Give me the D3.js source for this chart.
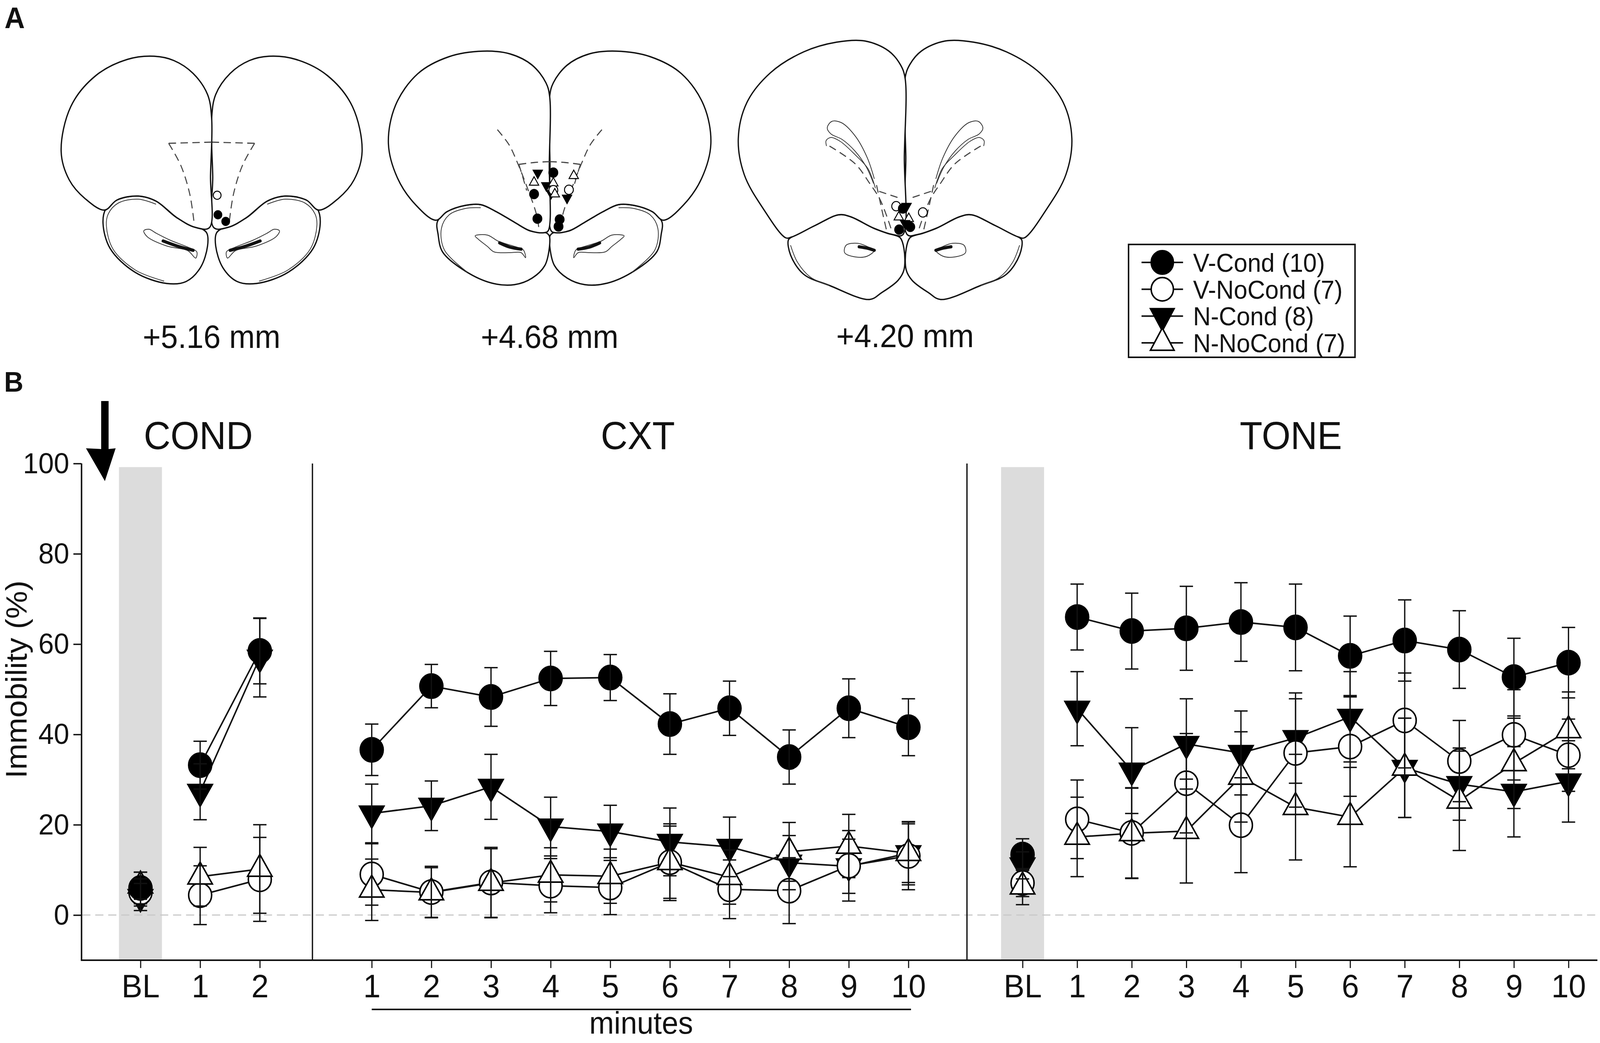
<!DOCTYPE html>
<html>
<meta charset="utf-8">
<head>
<title>immobility</title>
<script src="https://cdn.jsdelivr.net/npm/d3@7/dist/d3.min.js" charset="utf-8"></script>
<style>
  html, body { margin: 0; padding: 0; width: 100%; height: 100%; overflow: hidden; background: #fff; }
  svg { display: block; }
  text { font-family: "Liberation Sans", Arial, sans-serif; fill: #111; }
</style>
</head>
<body>
<script>
// ---- data ----
var groups = ["V-Cond", "V-NoCond", "N-Cond", "N-NoCond"];
var groupN = [10, 7, 8, 7];

var condCats = ["BL", "1", "2"];
var minuteCats = ["1", "2", "3", "4", "5", "6", "7", "8", "9", "10"];
var toneCats = ["BL", "1", "2", "3", "4", "5", "6", "7", "8", "9", "10"];
var yTicks = [0, 20, 40, 60, 80, 100];

// rows follow `groups`
var condMeans = [
  [6.0, 33.2, 58.5],
  [5.0, 4.4, 7.9],
  [4.0, 27.3, 57.0],
  [6.5, 8.5, 10.2]
];
var condSE = [
  [3.5, 5.3, 7.3],
  [3.0, 6.5, 9.3],
  [3.0, 6.2, 8.7],
  [3.0, 6.5, 9.8]
];
var cxtMeans = [
  [36.6, 50.7, 48.3, 52.4, 52.6, 42.3, 45.8, 35.0, 45.8, 41.6],
  [9.0, 5.1, 7.2, 6.5, 6.1, 11.7, 5.7, 5.4, 10.9, 13.1],
  [22.5, 24.2, 28.4, 19.6, 18.5, 16.2, 15.1, 11.6, 10.8, 13.7],
  [5.6, 5.0, 7.1, 8.9, 8.6, 11.7, 8.4, 14.0, 15.3, 13.7]
];
var cxtSE = [
  [5.7, 4.8, 6.5, 6.0, 5.1, 6.7, 6.0, 6.0, 6.5, 6.3],
  [6.8, 5.7, 7.8, 6.0, 6.0, 8.5, 6.5, 7.3, 7.8, 7.5],
  [6.5, 5.5, 7.2, 6.5, 5.8, 7.5, 6.6, 6.0, 6.0, 6.5],
  [6.8, 5.5, 7.6, 6.0, 6.0, 8.0, 6.0, 6.5, 7.0, 7.0]
];
var toneMeans = [
  [13.4, 66.0, 62.9, 63.5, 64.9, 63.7, 57.4, 60.8, 58.8, 52.7, 55.9],
  [7.1, 21.2, 18.2, 29.2, 19.9, 35.9, 37.3, 43.1, 34.1, 39.9, 35.4],
  [11.0, 45.7, 32.0, 37.9, 35.9, 39.2, 43.9, 32.6, 29.0, 27.3, 29.6],
  [6.3, 17.3, 18.1, 18.6, 30.6, 23.9, 21.7, 32.6, 25.3, 33.6, 40.9]
];
var toneSE = [
  [3.5, 7.3, 8.4, 9.3, 8.7, 9.6, 8.8, 9.0, 8.6, 8.6, 7.8],
  [3.0, 8.7, 10.0, 11.0, 10.5, 12.0, 11.0, 10.5, 9.0, 10.0, 8.0],
  [3.0, 8.2, 9.5, 10.0, 9.3, 10.0, 10.0, 11.0, 8.0, 10.0, 9.0],
  [4.0, 8.8, 10.0, 11.5, 10.0, 11.7, 11.0, 11.0, 11.0, 10.0, 8.5]
];

// cannula placements: [group, offset from midline, depth]
var place516 = [["V-NoCond", 15, 500], ["V-Cond", 17, 550], ["V-Cond", 38, 567]];
var place468 = [["N-Cond", -32, 443], ["V-Cond", 10, 442], ["N-NoCond", -42, 467],
  ["N-Cond", -9, 475], ["N-NoCond", 10, 469], ["N-NoCond", 65, 450], ["V-Cond", -42, 497],
  ["V-NoCond", 52, 486], ["N-Cond", 47, 507], ["N-Cond", 4, 495], ["V-NoCond", 10, 487],
  ["N-NoCond", 14, 497], ["V-Cond", -33, 560], ["V-Cond", 27, 562], ["V-Cond", 24, 580]];
var place420 = [["V-NoCond", -24, 528], ["N-Cond", 4, 528], ["V-Cond", -6, 534],
  ["N-NoCond", -17, 556], ["N-NoCond", 10, 560], ["V-NoCond", 48, 544], ["N-Cond", 0, 572],
  ["V-Cond", -16, 588], ["V-Cond", 14, 581]];

// ---- page ----
var W = 4317, H = 2671;
var svg = d3.select("body").append("svg")
  .attr("viewBox", "0 0 " + W + " " + H)
  .attr("width", "100%").attr("height", "100%")
  .attr("preserveAspectRatio", "none");
svg.append("rect").attr("width", W).attr("height", H).attr("fill", "#fff");

var fillOf = {"V-Cond": "#000", "V-NoCond": "#fff", "N-Cond": "#000", "N-NoCond": "#fff"};
var shapeOf = {"V-Cond": "circle", "V-NoCond": "circle", "N-Cond": "down", "N-NoCond": "up"};

function markPath(shape, r, w, h) {
  if (shape == "circle") return d3.symbol(d3.symbolCircle, Math.PI * r * r)();
  var p = d3.path();
  if (shape == "up") {
    p.moveTo(0, -2 * h / 3); p.lineTo(w / 2, h / 3); p.lineTo(-w / 2, h / 3);
  } else {
    p.moveTo(0, 2 * h / 3); p.lineTo(w / 2, -h / 3); p.lineTo(-w / 2, -h / 3);
  }
  p.closePath();
  return p.toString();
}

// ======== panel A : brain sections ========
var hemi516 = [[0,303],[-11,242],[-50,188],[-102,155],[-155,144],[-227,152],[-313,194],[-380,273],[-406,388],[-384,461],[-341,509],[-289,538],[-255,512],[-198,502],[-150,515],[-93,558],[-45,582],[-6,583],[-3,450]];
var bulb516 = [[-286,536],[-293,572],[-274,636],[-207,697],[-121,726],[-69,721],[-30,685],[-11,630],[-13,597],[-30,584],[-93,558],[-150,515],[-198,502],[-255,512]];
var inner516 = [[-150,523],[-198,510],[-252,520],[-279,548],[-284,578],[-266,638],[-205,692],[-128,720]];
var cres516 = [[-183,591],[-174,606],[-121,630],[-64,642],[-43,661],[-40,645],[-64,633],[-112,615],[-150,597],[-169,587]];
var stripe516 = [[-131,617],[-93,630],[-50,641]];
var dash516 = [[[-116,367],[0,364]], [[-116,367],[-83,424],[-59,497],[-47,573]]];

var hemi468 = [[0,247],[-10,212],[-47,167],[-107,138],[-180,131],[-271,145],[-356,189],[-416,270],[-435,368],[-410,457],[-362,524],[-307,564],[-277,542],[-228,526],[-186,524],[-144,542],[-95,569],[-53,591],[-16,596],[-4,591],[-1,420]];
var bulb468 = [[-303,568],[-301,600],[-289,645],[-228,694],[-156,725],[-95,729],[-47,712],[-13,680],[-1,636],[-1,604],[-10,596],[-53,591],[-95,569],[-144,542],[-186,524],[-228,526],[-277,542]];
var inner468 = [[-186,532],[-228,534],[-271,550],[-292,585],[-284,640],[-222,697]];
var cres468 = [[-201,604],[-168,602],[-138,618],[-95,631],[-71,640],[-65,660],[-77,647],[-107,647],[-150,645],[-168,631],[-192,613]];
var stripe468 = [[-135,622],[-107,633],[-77,638]];
var dash468 = [[[-141,332],[-110,370],[-89,412],[-59,484],[-35,551],[-28,593]],
  [[-83,421],[-40,416],[0,414]], [[-83,421],[-72,455],[-62,488]]];

var hemi420 = [[0,200],[-13,165],[-45,130],[-108,105],[-185,108],[-274,133],[-364,187],[-427,263],[-450,355],[-434,447],[-383,534],[-322,609],[-306,607],[-242,577],[-179,550],[-147,555],[-83,585],[-32,601],[-6,601],[-2,400]];
var bulb420 = [[-315,615],[-309,653],[-274,702],[-204,731],[-96,767],[-64,750],[-19,718],[-3,691],[-3,637],[-13,609],[-32,601],[-83,585],[-147,555],[-179,550],[-242,577],[-306,607]];
var inner420 = [[-309,628],[-290,672],[-255,710],[-204,731]];
var cres420 = [[-159,628],[-128,623],[-96,634],[-83,641],[-102,656],[-134,658],[-163,647]];
var stripe420 = [[-124,632],[-100,636],[-83,641]];
var horn420 = [[[-83,458],[-102,404],[-134,349],[-172,314],[-198,311],[-210,328],[-200,343],[-170,357],[-135,387],[-105,427],[-85,470]],
  [[-80,482],[-100,432],[-135,396],[-175,362],[-200,352],[-213,360],[-212,374]]];
var dash420 = [[[-204,374],[-134,420],[-96,469],[-67,512],[-38,585]],
  [[-70,490],[-10,509]], [[-77,474],[-62,540],[-50,590]]];

var sections = [
  {label: "+5.16 mm", cx: 571, ty: 891, hemi: hemi516, bulb: bulb516, inner: inner516, cres: cres516, stripe: stripe516, horns: [], dashes: dash516, places: place516, r: 10.5},
  {label: "+4.68 mm", cx: 1483, ty: 891, hemi: hemi468, bulb: bulb468, inner: inner468, cres: cres468, stripe: stripe468, horns: [], dashes: dash468, places: place468, r: 12},
  {label: "+4.20 mm", cx: 2442, ty: 889, hemi: hemi420, bulb: bulb420, inner: inner420, cres: cres420, stripe: stripe420, horns: horn420, dashes: dash420, places: place420, r: 12}
];

var openCurve = d3.line().curve(d3.curveCatmullRom.alpha(0.5));
var closedCurve = d3.line().curve(d3.curveCatmullRomClosed.alpha(0.5));

var panelA = svg.append("g");
sections.forEach(function(sec) {
  var g = panelA.append("g");
  [-1, 1].forEach(function(s) {
    var m = function(pts) { return pts.map(function(p) { return [sec.cx + s * p[0], p[1]]; }); };
    g.append("path").attr("d", closedCurve(m(sec.bulb)))
      .attr("fill", "#fff").attr("stroke", "#111").attr("stroke-width", 3.5);
    g.append("path").attr("d", closedCurve(m(sec.hemi)))
      .attr("fill", "#fff").attr("stroke", "#111").attr("stroke-width", 3.5);
    g.append("path").attr("d", openCurve(m(sec.inner)))
      .attr("fill", "none").attr("stroke", "#333").attr("stroke-width", 2);
    g.append("path").attr("d", closedCurve(m(sec.cres)))
      .attr("fill", "none").attr("stroke", "#333").attr("stroke-width", 2);
    g.append("path").attr("d", openCurve(m(sec.stripe)))
      .attr("fill", "none").attr("stroke", "#111").attr("stroke-width", 8).attr("stroke-linecap", "round");
    sec.horns.forEach(function(h) {
      g.append("path").attr("d", openCurve(m(h)))
        .attr("fill", "none").attr("stroke", "#333").attr("stroke-width", 2);
    });
    sec.dashes.forEach(function(d) {
      g.append("path").attr("d", openCurve(m(d)))
        .attr("fill", "none").attr("stroke", "#444").attr("stroke-width", 2.8)
        .attr("stroke-dasharray", "20,12");
    });
  });
  sec.places.forEach(function(p) {
    var sh = shapeOf[p[0]];
    g.append("path")
      .attr("transform", "translate(" + (sec.cx + p[1]) + "," + p[2] + ")")
      .attr("d", markPath(sh, sec.r, sec.r * 2.1, sec.r * 1.8))
      .attr("fill", fillOf[p[0]]).attr("stroke", "#000").attr("stroke-width", 2.5);
  });
  g.append("text").attr("x", sec.cx).attr("y", sec.ty).attr("text-anchor", "middle")
    .attr("font-size", 83).text(sec.label);
});

svg.append("text").attr("x", 12).attr("y", 72).attr("font-size", 76)
  .attr("font-weight", "bold").text("A");

// legend
var leg = svg.append("g");
leg.append("rect").attr("x", 3045).attr("y", 626).attr("width", 611).attr("height", 289)
  .attr("fill", "#fff").attr("stroke", "#111").attr("stroke-width", 4);
groups.forEach(function(gname, i) {
  var cy = 672 + i * 68.7;
  leg.append("line").attr("x1", 3080).attr("x2", 3192).attr("y1", cy).attr("y2", cy)
    .attr("stroke", "#111").attr("stroke-width", 4);
  leg.append("path").attr("transform", "translate(3136," + cy + ")")
    .attr("d", markPath(shapeOf[gname], 30, 64, 57))
    .attr("fill", fillOf[gname]).attr("stroke", "#000").attr("stroke-width", 4);
  leg.append("text").attr("x", 3219).attr("y", cy + 24).attr("font-size", 66)
    .text(gname + " (" + groupN[i] + ")");
});

// ======== panel B : immobility ========
svg.append("text").attr("x", 11).attr("y", 1003).attr("font-size", 72)
  .attr("font-weight", "bold").text("B");

var y = d3.scaleLinear().domain([-10, 100]).range([2459, 1187]);
var xCond = d3.scalePoint().domain(condCats).range([379, 701]);
var xCxt = d3.scalePoint().domain(minuteCats).range([1003, 2451]);
var xTone = d3.scalePoint().domain(toneCats).range([2759, 4232]);

var panels = [
  {title: "COND", tx: 535, cats: condCats, x: xCond, means: condMeans, se: condSE, start: 1, shade: "BL"},
  {title: "CXT", tx: 1721, cats: minuteCats, x: xCxt, means: cxtMeans, se: cxtSE, start: 0, shade: null},
  {title: "TONE", tx: 3483, cats: toneCats, x: xTone, means: toneMeans, se: toneSE, start: 1, shade: "BL"}
];

var plot = svg.append("g");

// shaded baseline columns
panels.forEach(function(p) {
  if (!p.shade) return;
  plot.append("rect").attr("x", p.x(p.shade) - 58).attr("width", 116)
    .attr("y", y(99.2)).attr("height", y(-10) - y(99.2)).attr("fill", "#dcdcdc");
});

// zero reference
plot.append("line").attr("x1", 222).attr("x2", 4310).attr("y1", y(0)).attr("y2", y(0))
  .attr("stroke", "#c9c9c9").attr("stroke-width", 3).attr("stroke-dasharray", "22,13");

// y axis
var yAxis = plot.append("g").attr("transform", "translate(220,0)")
  .call(d3.axisLeft(y).tickValues(yTicks).tickSize(22).tickSizeOuter(0).tickPadding(11));
yAxis.select(".domain").attr("stroke", "#111").attr("stroke-width", 4)
  .attr("d", "M0," + y(100) + "V" + y(-10));
yAxis.selectAll(".tick line").attr("stroke", "#111").attr("stroke-width", 3.5);
yAxis.selectAll(".tick text").attr("font-size", 75).attr("fill", "#111")
  .attr("font-family", "'DejaVu Sans', sans-serif");

plot.append("text").attr("transform", "translate(72,1740) rotate(-90)")
  .attr("text-anchor", "middle").attr("font-size", 80).text("Immobility (%)");

// x axis
plot.append("line").attr("x1", 218).attr("x2", 4310).attr("y1", y(-10)).attr("y2", y(-10))
  .attr("stroke", "#111").attr("stroke-width", 4);
panels.forEach(function(p) {
  var ax = plot.append("g").attr("transform", "translate(0," + y(-10) + ")")
    .call(d3.axisBottom(p.x).tickSize(20).tickSizeOuter(0).tickPadding(15));
  ax.select(".domain").remove();
  ax.selectAll(".tick line").attr("stroke", "#111").attr("stroke-width", 3);
  ax.selectAll(".tick text").attr("font-size", 84).attr("fill", "#111")
    .attr("font-family", "'Liberation Sans', Arial, sans-serif");
  plot.append("text").attr("x", p.tx).attr("y", 1150).attr("text-anchor", "middle")
    .attr("font-size", 100).text(p.title);
});

// panel separators
[843, 2609].forEach(function(sx) {
  plot.append("line").attr("x1", sx).attr("x2", sx).attr("y1", y(100)).attr("y2", y(-10))
    .attr("stroke", "#111").attr("stroke-width", 3.5);
});

// minutes bracket
plot.append("line").attr("x1", xCxt("1")).attr("x2", xCxt("10") + 7).attr("y1", 2585).attr("y2", 2585)
  .attr("stroke", "#111").attr("stroke-width", 4);
plot.append("text").attr("x", 1730).attr("y", 2647).attr("text-anchor", "middle")
  .attr("font-size", 80).text("minutes");

// stimulus arrow
var arrow = d3.path();
arrow.moveTo(273, 1027); arrow.lineTo(293, 1027); arrow.lineTo(293, 1150); arrow.lineTo(312, 1148);
arrow.lineTo(283, 1232); arrow.lineTo(232, 1148); arrow.lineTo(273, 1150); arrow.closePath();
plot.append("path").attr("d", arrow.toString()).attr("fill", "#000");

// series
var drawOrder = [2, 1, 3, 0];
var lineGen = d3.line();

panels.forEach(function(p) {
  groups.forEach(function(gname, gi) {
    var pts = p.cats.map(function(c, i) { return [p.x(c), y(p.means[gi][i])]; }).slice(p.start);
    plot.append("path").attr("d", lineGen(pts)).attr("fill", "none")
      .attr("stroke", "#111").attr("stroke-width", 4);
  });
});

panels.forEach(function(p) {
  drawOrder.forEach(function(gi) {
    var gname = groups[gi];
    p.cats.forEach(function(c, i) {
      plot.append("path")
        .attr("transform", "translate(" + p.x(c) + "," + y(p.means[gi][i]) + ")")
        .attr("d", markPath(shapeOf[gname], 31, 66, 56))
        .attr("fill", fillOf[gname]).attr("stroke", "#000").attr("stroke-width", 4);
    });
  });
});

panels.forEach(function(p) {
  drawOrder.forEach(function(gi) {
    p.cats.forEach(function(c, i) {
      var cx = p.x(c), m = p.means[gi][i], e = p.se[gi][i];
      var eb = plot.append("g").attr("stroke", "#111").attr("stroke-width", 3.5);
      eb.append("line").attr("x1", cx).attr("x2", cx).attr("y1", y(m + e)).attr("y2", y(m - e));
      eb.append("line").attr("x1", cx - 18).attr("x2", cx + 18).attr("y1", y(m + e)).attr("y2", y(m + e));
      eb.append("line").attr("x1", cx - 18).attr("x2", cx + 18).attr("y1", y(m - e)).attr("y2", y(m - e));
    });
  });
});
</script>
</body>
</html>
